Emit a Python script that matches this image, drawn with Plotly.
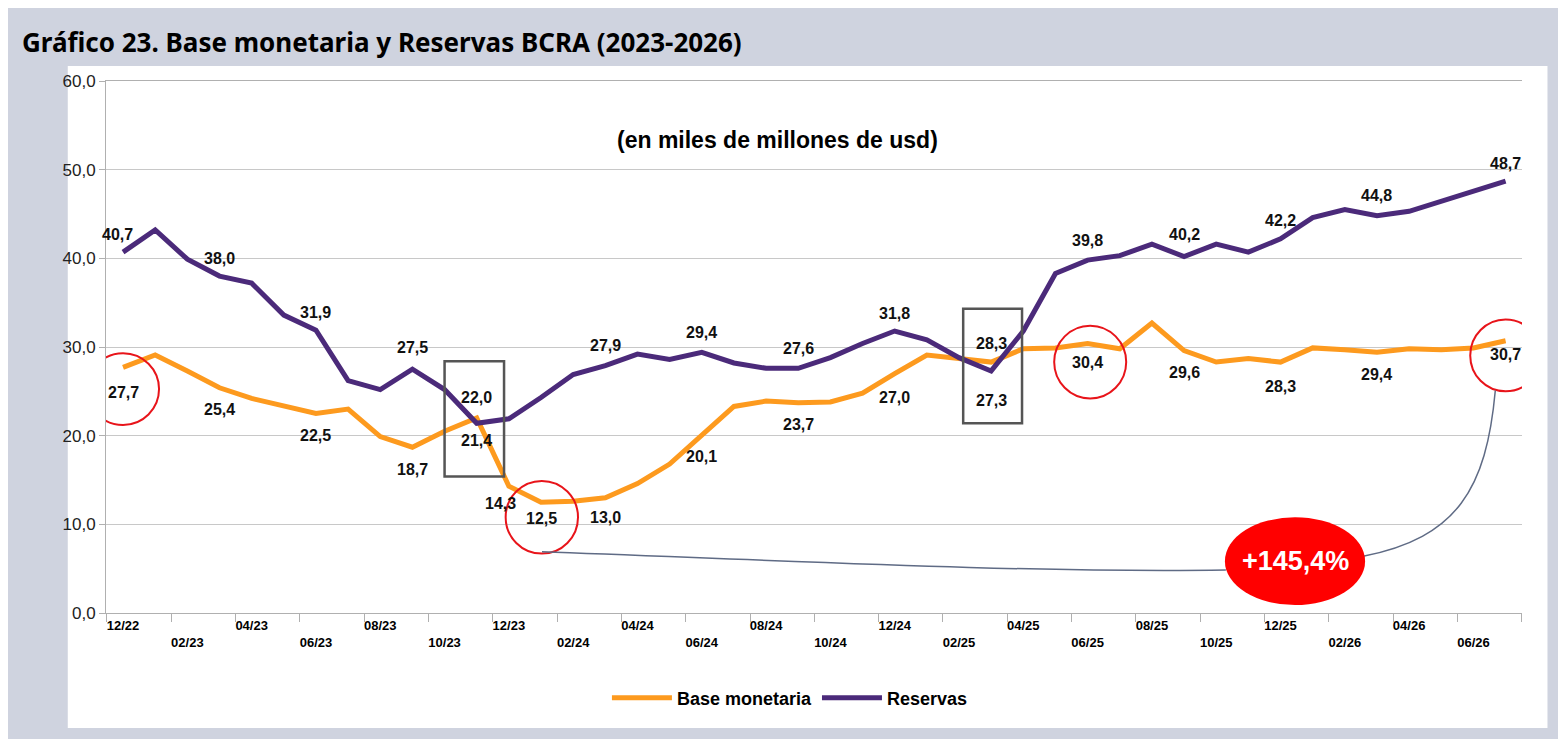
import plotly.graph_objects as go

months = ["12/22","01/23","02/23","03/23","04/23","05/23","06/23","07/23","08/23","09/23","10/23","11/23",
          "12/23","01/24","02/24","03/24","04/24","05/24","06/24","07/24","08/24","09/24","10/24","11/24",
          "12/24","01/25","02/25","03/25","04/25","05/25","06/25","07/25","08/25","09/25","10/25","11/25",
          "12/25","01/26","02/26","03/26","04/26","05/26","06/26","07/26"]
base = [27.7,29.1,27.3,25.4,24.2,23.3,22.5,23.0,19.9,18.7,20.5,22.0,
        14.3,12.5,12.6,13.0,14.6,16.8,20.1,23.3,23.9,23.7,23.8,24.8,
        27.0,29.1,28.7,28.3,29.8,29.9,30.4,29.8,32.7,29.6,28.3,28.7,
        28.3,29.9,29.7,29.4,29.8,29.7,29.9,30.7]
reservas = [40.7,43.2,39.9,38.0,37.2,33.6,31.9,26.2,25.2,27.5,25.2,21.4,
            21.9,24.3,26.9,27.9,29.2,28.6,29.4,28.2,27.6,27.6,28.8,30.4,
            31.8,30.8,28.8,27.3,31.8,38.3,39.8,40.3,41.6,40.2,41.6,40.7,
            42.2,44.6,45.5,44.8,45.3,46.4,47.5,48.7]
# (index, pixel shift) for labelled points
res_labels = [(0,18),(3,18),(6,18),(9,22),(11,-17),(15,20),(18,20),(21,20),(24,18),(27,-30),
              (30,20),(33,22),(36,18),(39,20),(43,18)]
base_labels = [(0,-25),(3,-22),(6,-22),(9,-22),(11,20),(12,-17),(13,-16),(15,-20),(18,-22),(21,-22),
               (24,-24),(27,19),(30,-19),(33,-22),(36,-24),(39,-22),(43,-14)]
growth_label = "+145,4%"

x = list(range(len(months)))
fig = go.Figure()
fig.add_trace(go.Scatter(x=x, y=base, mode="lines", name="Base monetaria",
                         line=dict(color="#fd9a1e", width=5)))
fig.add_trace(go.Scatter(x=x, y=reservas, mode="lines", name="Reservas",
                         line=dict(color="#4b2a7a", width=5)))

fmt = lambda v: f"<b>{v:.1f}</b>".replace(".", ",")
ann = []
for i, s in res_labels:
    ann.append(dict(x=i, y=reservas[i], text=fmt(reservas[i]), showarrow=False, yshift=s,
                    xshift=-6 if i == 0 else 0))
for i, s in base_labels:
    ann.append(dict(x=i, y=base[i], text=fmt(base[i]), showarrow=False, yshift=s,
                    xshift=-8 if i == 12 else 0))
for a in ann:
    a["font"] = dict(family="Liberation Sans, Arial", size=16, color="#111")
ann.append(dict(x=36.45, y=5.86, text="<b>" + growth_label + "</b>", showarrow=False,
                font=dict(family="Liberation Sans, Arial", size=27, color="white")))
ann.append(dict(xref="paper", yref="paper", x=-0.061, y=1.073, xanchor="left", yanchor="middle",
                text="<b>Gráfico 23. Base monetaria y Reservas BCRA (2023-2026)</b>", showarrow=False,
                font=dict(family="Noto Sans", size=26, color="black")))
ann.append(dict(xref="paper", yref="paper", x=0.474, y=0.918, text="<b>(en miles de millones de usd)</b>",
                showarrow=False, font=dict(family="Liberation Sans, Arial", size=23, color="black")))

shapes = [
    dict(type="rect", xref="paper", yref="paper", x0=-0.027, x1=1.018, y0=-0.216, y1=1.028,
         fillcolor="white", line=dict(width=0), layer="below"),
]
for (x0, x1, y0, y1) in [(-1.12, 1.12, 21.2, 29.3), (11.9, 14.15, 6.7, 14.9),
                         (28.96, 31.2, 24.2, 32.4), (41.9, 44.1, 25.0, 33.1)]:
    shapes.append(dict(type="circle", x0=x0, x1=x1, y0=y0, y1=y1, line=dict(color="#e8141a", width=2)))
for (x0, x1, y0, y1) in [(10.0, 11.85, 15.4, 28.4), (26.13, 27.96, 21.4, 34.3)]:
    shapes.append(dict(type="rect", x0=x0, x1=x1, y0=y0, y1=y1, line=dict(color="#555", width=2.5)))
shapes.append(dict(type="path", path="M 13.03,6.9 C 20,6 28,4.5 34.3,4.85", line=dict(color="#5f6b85", width=1.5)))
shapes.append(dict(type="path", path="M 38.57,6.4 C 41.5,8.5 42.4,14 42.68,25.1", line=dict(color="#5f6b85", width=1.5)))
shapes.append(dict(type="circle", x0=34.27, x1=38.63, y0=0.9, y1=10.8, fillcolor="#ff0000", line=dict(width=0)))

ticktext = [("" if (k // 2) % 2 == 0 else "<br>") + months[k] for k in range(0, len(months), 2)]
fig.update_layout(
    width=1566, height=739, margin=dict(l=98, r=52, t=73, b=134),
    paper_bgcolor="#cfd3df", plot_bgcolor="white", separators=",.",
    annotations=ann, shapes=shapes,
    legend=dict(orientation="h", x=0.483, xanchor="center", y=-0.16, yanchor="middle",
                font=dict(family="Liberation Sans, Arial", size=18, color="black", weight="bold"),
                bgcolor="rgba(0,0,0,0)", itemwidth=60),
    xaxis=dict(range=[-0.53, 43.51], tickvals=list(range(0, len(months), 2)), ticktext=ticktext,
               ticks="", showgrid=False, showline=True, linecolor="#b0b0b0", mirror=True, zeroline=False,
               tickfont=dict(family="Liberation Sans, Arial", size=13, color="black", weight="bold"),
               minor=dict(tick0=-0.5, dtick=2, ticks="outside", ticklen=8, tickcolor="#b0b0b0", showgrid=False)),
    yaxis=dict(range=[0, 60], dtick=10, tickformat=".1f", gridcolor="#c8c8c8", showline=True,
               linecolor="#b0b0b0", zeroline=False, ticks="outside", ticklen=6, tickcolor="#b0b0b0",
               tickfont=dict(family="Liberation Sans, Arial", size=17, color="#222")),
)
fig.write_html("out.html")
